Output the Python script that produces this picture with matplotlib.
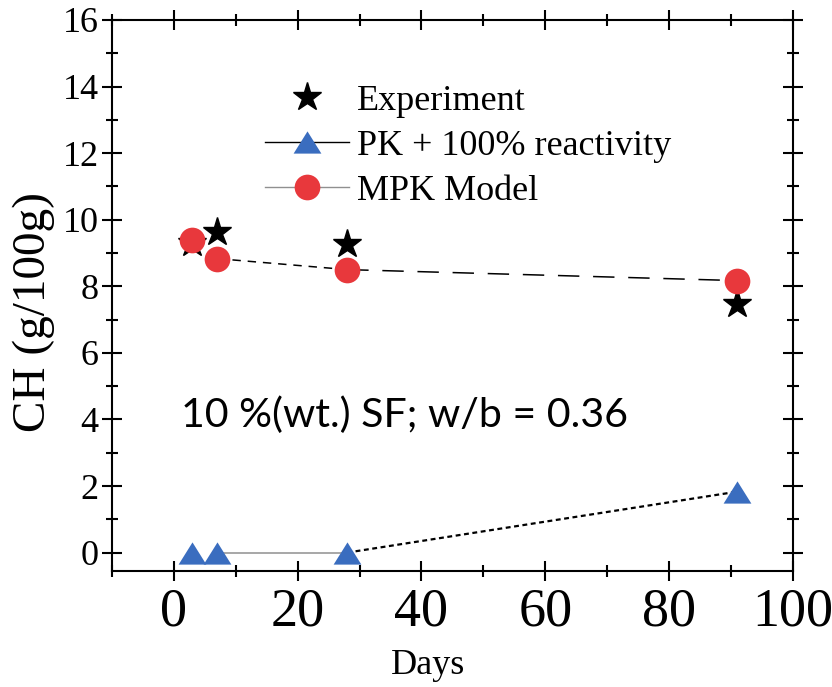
import matplotlib
matplotlib.use("Agg")
import matplotlib.pyplot as plt
from matplotlib.ticker import MultipleLocator

# Calcium hydroxide content vs curing age
days = [3, 7, 28, 91]
ch_experiment = [9.3, 9.64, 9.28, 7.48]
ch_pk100 = [0.0, 0.0, 0.0, 1.83]
ch_mpk = [9.4, 8.83, 8.5, 8.17]

x_ticks = [0, 20, 40, 60, 80, 100]
y_ticks = [0, 2, 4, 6, 8, 10, 12, 14, 16]

RED = "#E8383C"
BLUE = "#3A6DBF"
SERIF = "Liberation Serif"

# styles of the connecting segments between consecutive ages
mpk_seg_styles = [None, (0, (5.5, 4.5)), (0, (14, 9))]
pk_seg_styles = [None, "solid", (0, (2.2, 1.6))]
pk_seg_colors = [None, "#A0A0A0", "black"]
pk_seg_widths = [None, 1.3, 1.6]

fig = plt.figure(figsize=(8.32, 6.87), dpi=100)
ax = fig.add_axes([0.1346, 0.169, 0.953 - 0.1346, 0.971 - 0.169])

for i in range(1, len(days) - 1):
    ax.plot(days[i:i + 2], ch_mpk[i:i + 2], color="black", lw=1.1,
            ls=mpk_seg_styles[i], zorder=2)
    ax.plot(days[i:i + 2], ch_pk100[i:i + 2], color=pk_seg_colors[i],
            lw=pk_seg_widths[i], ls=pk_seg_styles[i], zorder=2)

tri = [(-1, -0.8), (1, -0.8), (0, 0.8), (-1, -0.8)]

ax.plot(days, ch_experiment, ls="none", marker="*", ms=21, color="black",
        zorder=3)
ax.plot(days, ch_pk100, ls="none", marker=tri, ms=20, color=BLUE,
        markeredgewidth=0, zorder=4)
ax.plot(days, ch_mpk, ls="none", marker="o", ms=18.5, color=RED,
        markeredgewidth=0, zorder=4)

# legend handles
h_exp, = ax.plot([], [], ls="none", marker="*", ms=21, color="black")
h_pk, = ax.plot([], [], ls="-", lw=1.0, color="black", marker=tri, ms=20,
                markerfacecolor=BLUE, markeredgewidth=0)
h_mpk, = ax.plot([], [], ls="-", lw=1.0, color="#909090", marker="o", ms=18.5,
                 markerfacecolor=RED, markeredgewidth=0)
leg = ax.legend([h_exp, h_pk, h_mpk],
                ["Experiment", "PK + 100% reactivity", "MPK Model"],
                loc="upper left", bbox_to_anchor=(0.224, 0.883),
                frameon=False, prop={"family": SERIF, "size": 26},
                handlelength=2.35, handletextpad=0.2, labelspacing=0.33,
                borderpad=0, borderaxespad=0)

ax.text(1.1, 3.78, "10 %(wt.) SF; w/b = 0.36", family="Lato", fontsize=29.6,
        va="baseline", ha="left", color="black")

ax.set_xlim(-10, 100)
ax.set_ylim(-0.55, 16)
ax.set_xticks(x_ticks)
ax.set_yticks(y_ticks)
ax.xaxis.set_minor_locator(MultipleLocator(10))
ax.yaxis.set_minor_locator(MultipleLocator(1))

ax.tick_params(which="major", direction="inout", length=15, width=1.5,
               top=True, right=True, color="black")
ax.tick_params(which="minor", direction="inout", length=9, width=1.5,
               top=True, right=True, color="black")
ax.tick_params(axis="x", which="major", labelsize=39, pad=4)
ax.tick_params(axis="y", which="major", labelsize=26, pad=2)
for lab in ax.get_xticklabels() + ax.get_yticklabels():
    lab.set_family(SERIF)

for s in ax.spines.values():
    s.set_linewidth(1.5)

ax.set_xlabel("Days", family=SERIF, fontsize=26)
ax.xaxis.set_label_coords(0.464, -0.142)
ax.set_ylabel("CH (g/100g)", family=SERIF, fontsize=34)
ax.yaxis.set_label_coords(-0.084, 0.47)

fig.savefig("out.png", dpi=100)
